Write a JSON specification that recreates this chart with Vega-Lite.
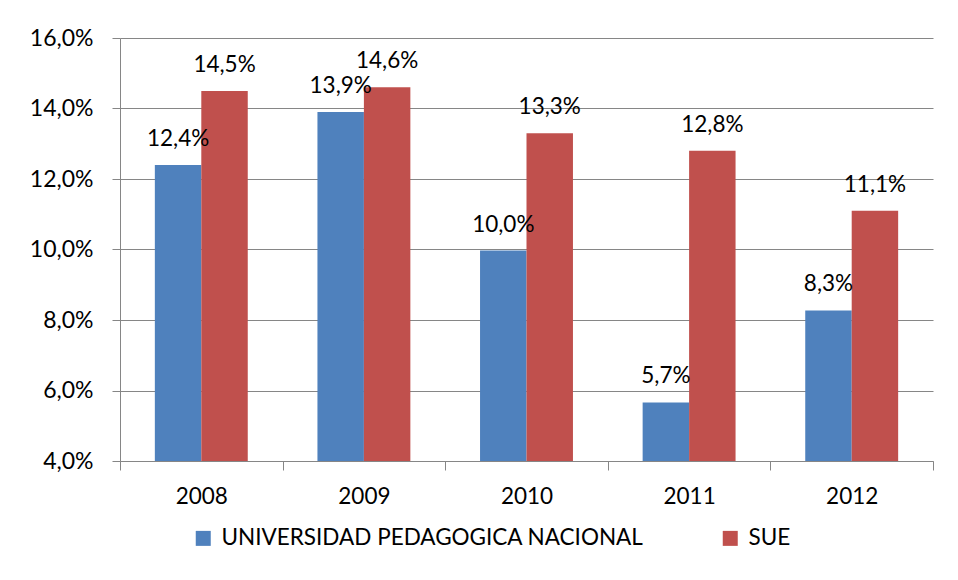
{
  "$schema": "https://vega.github.io/schema/vega-lite/v6.json",
  "width": 813,
  "height": 423,
  "autosize": {"type": "none"},
  "padding": {"left": 120, "top": 38, "right": 25, "bottom": 119},
  "config": {
    "locale": {"number": {"decimal": ",", "thousands": ".", "grouping": [3], "currency": ["$", ""]}},
    "view": {"stroke": null},
    "font": "Lato"
  },
  "data": {
    "values": [
      {"year": "2008", "series": "UNIVERSIDAD PEDAGOGICA NACIONAL", "value": 0.124},
      {"year": "2008", "series": "SUE", "value": 0.145},
      {"year": "2009", "series": "UNIVERSIDAD PEDAGOGICA NACIONAL", "value": 0.139},
      {"year": "2009", "series": "SUE", "value": 0.146},
      {"year": "2010", "series": "UNIVERSIDAD PEDAGOGICA NACIONAL", "value": 0.0997},
      {"year": "2010", "series": "SUE", "value": 0.133},
      {"year": "2011", "series": "UNIVERSIDAD PEDAGOGICA NACIONAL", "value": 0.0566},
      {"year": "2011", "series": "SUE", "value": 0.128},
      {"year": "2012", "series": "UNIVERSIDAD PEDAGOGICA NACIONAL", "value": 0.0827},
      {"year": "2012", "series": "SUE", "value": 0.111}
    ]
  },
  "encoding": {
    "x": {
      "field": "year",
      "type": "nominal",
      "scale": {"paddingInner": 0, "paddingOuter": 0},
      "axis": {
        "title": null,
        "labelAngle": 0,
        "tickBand": "extent",
        "tickSize": 9,
        "tickColor": "#868686",
        "domainColor": "#868686",
        "labelFontSize": 22.5,
        "labelFont": "Lato",
        "labelColor": "#000000",
        "labelPadding": 15,
        "grid": false
      }
    },
    "xOffset": {
      "field": "series",
      "type": "nominal",
      "sort": ["UNIVERSIDAD PEDAGOGICA NACIONAL", "SUE"],
      "scale": {"paddingInner": 0, "paddingOuter": 0.75}
    },
    "y": {
      "field": "value",
      "type": "quantitative",
      "scale": {"domain": [0.04, 0.16], "nice": false, "zero": false},
      "axis": {
        "title": null,
        "values": [0.04, 0.06, 0.08, 0.1, 0.12, 0.14, 0.16],
        "format": ".1%",
        "grid": true,
        "gridColor": "#868686",
        "domainColor": "#868686",
        "tickColor": "#868686",
        "tickSize": 8,
        "labelFontSize": 23,
        "labelFont": "Lato",
        "labelColor": "#000000",
        "labelPadding": 19
      }
    }
  },
  "layer": [
    {
      "mark": {"type": "bar", "clip": true},
      "encoding": {
        "color": {
          "field": "series",
          "type": "nominal",
          "scale": {"domain": ["UNIVERSIDAD PEDAGOGICA NACIONAL", "SUE"], "range": ["#4F81BD", "#C0504D"]},
          "legend": {
            "title": null,
            "orient": "none",
            "legendX": 72,
            "legendY": 489,
            "direction": "horizontal",
            "columns": 2,
            "symbolType": "square",
            "symbolSize": 225,
            "symbolStrokeWidth": 0,
            "labelFontSize": 22.5,
            "labelFont": "Lato",
            "labelColor": "#000000",
            "labelOffset": 7,
            "labelLimit": 600,
            "columnPadding": 75
          }
        }
      }
    },
    {
      "mark": {"type": "text", "dy": -19, "baseline": "alphabetic", "align": "center", "fontSize": 22.5, "font": "Lato", "color": "#000000"},
      "encoding": {
        "text": {"field": "value", "type": "quantitative", "format": ".1%"}
      }
    }
  ]
}
